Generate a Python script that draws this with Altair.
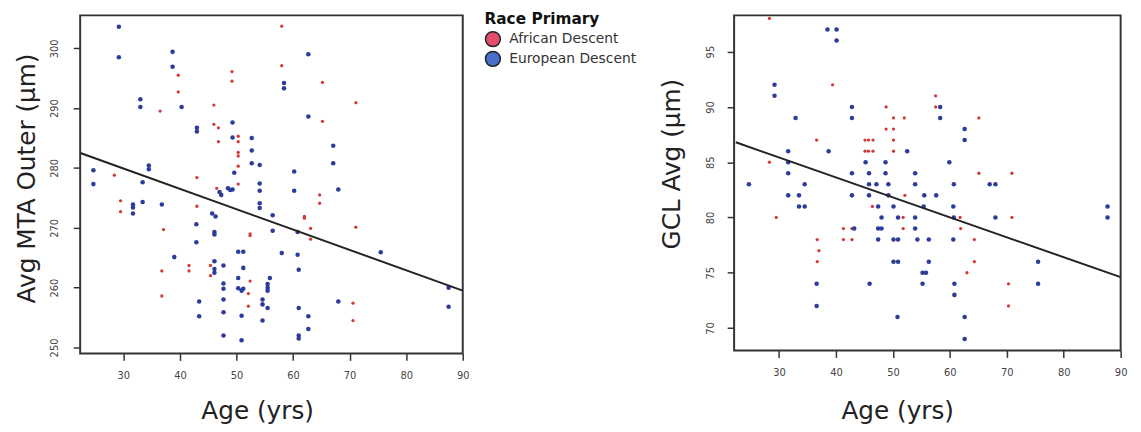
import altair as alt
import pandas as pd

# ---------------- data ----------------
races = ["African Descent", "European Descent"]

# Left panel: Avg MTA Outer (µm) vs Age
mta_af_age = [39.7, 39.7, 36.5, 46.0, 46.0, 46.8, 46.8, 49.2, 49.2, 50.3, 50.3, 50.3, 50.3, 50.3, 50.3,
              58.0, 58.0, 65.2, 71.1, 65.2, 64.7, 64.7, 62.0, 62.0, 63.1, 63.1, 71.1, 70.6, 70.6, 28.4,
              29.5, 29.5, 37.1, 36.8, 36.8, 41.6, 41.6, 43.0, 43.0, 45.4, 45.4, 46.5, 52.4, 52.4, 52.4,
              52.1, 52.1]
mta_af_val = [295.5, 292.7, 289.5, 290.5, 287.3, 286.7, 284.4, 296.1, 294.5, 285.3, 284.4, 282.6, 282.0,
              280.3, 277.3, 303.7, 297.1, 294.3, 290.9, 287.8, 275.5, 274.1, 271.9, 271.6, 269.9, 268.1,
              270.1, 257.4, 254.5, 278.8, 274.5, 272.7, 269.7, 262.8, 258.6, 263.7, 262.8, 278.4, 273.6,
              263.7, 262.0, 276.6, 269.0, 268.7, 261.1, 259.0, 256.9]
mta_eu_age = [29.2, 29.2, 38.7, 38.7, 33.0, 33.0, 40.3, 43.0, 43.0, 49.3, 49.3, 52.7, 52.7, 52.7, 54.1,
              62.7, 58.4, 58.4, 62.7, 67.1, 67.1, 68.0, 60.2, 60.2, 60.8, 60.8, 61.0, 75.5, 87.5, 87.5,
              68.0, 61.0, 62.7, 62.7, 61.0, 61.0, 24.7, 24.7, 31.7, 31.7, 31.7, 33.4, 33.4, 34.5, 34.5,
              36.8, 39.0, 42.9, 42.9, 43.4, 43.4, 46.1, 46.1, 46.1, 45.7, 46.3, 46.1, 46.1, 47.0, 47.3,
              47.7, 47.7, 47.7, 47.7, 47.7, 47.7, 48.5, 48.9, 49.3, 49.6, 50.3, 50.3, 50.9, 50.3, 51.2,
              51.2, 51.2, 50.9, 50.9, 54.1, 54.1, 54.1, 54.1, 56.4, 56.4, 58.0, 55.9, 55.5, 55.5, 55.5,
              54.6, 54.6, 55.5, 54.6]
mta_eu_val = [303.6, 298.5, 299.4, 296.9, 291.5, 290.2, 290.2, 286.7, 286.1, 287.6, 285.1, 285.0, 282.9,
              280.8, 280.5, 299.0, 294.2, 293.3, 288.6, 283.7, 280.8, 276.4, 279.4, 276.2, 269.3, 265.5,
              263.0, 265.9, 260.0, 256.8, 257.7, 256.6, 255.2, 253.1, 252.0, 251.5, 279.6, 277.3, 273.9,
              273.4, 272.4, 277.6, 274.3, 280.4, 279.8, 273.9, 265.1, 270.6, 267.6, 257.7, 255.2, 264.4,
              263.1, 262.5, 272.4, 271.9, 269.3, 268.9, 276.0, 275.5, 263.7, 260.7, 259.8, 258.0, 255.9,
              252.0, 276.6, 276.3, 276.4, 279.2, 261.6, 259.9, 259.5, 266.0, 266.0, 263.3, 259.8, 255.3,
              251.2, 277.4, 276.2, 274.1, 273.3, 272.1, 269.5, 265.8, 261.6, 260.6, 260.0, 259.5, 258.0,
              257.2, 256.6, 254.5]

# Right panel: GCL Avg (µm) vs Age
gcl_af_age = [28.3, 39.4, 48.8, 50.1, 52.0, 48.8, 50.1, 57.5, 57.5, 65.1, 36.6, 45.1, 45.7, 46.5, 45.1,
              45.7, 46.5, 50.1, 50.1, 28.3, 29.5, 46.4, 41.3, 41.3, 42.8, 42.8, 36.7, 37.0, 36.7, 51.8,
              51.8, 52.1, 61.8, 61.9, 63.0, 64.3, 64.3, 65.1, 70.9, 70.9, 70.3, 70.3]
gcl_af_val = [98, 92, 90, 89, 89, 88, 88, 91, 90, 89, 87, 87, 87, 87, 86,
              86, 86, 87, 86, 85, 80, 81, 79, 78, 79, 78, 78, 77, 76, 80,
              79, 82, 80, 79, 75, 78, 76, 84, 84, 80, 74, 72]
gcl_eu_age = [38.5, 40.1, 40.1, 29.2, 29.2, 42.8, 42.8, 32.9, 58.3, 58.3, 62.6, 62.6, 38.7, 52.5, 31.6,
              31.6, 31.6, 24.7, 34.5, 31.6, 33.5, 33.5, 34.5, 42.8, 42.8, 45.2, 45.8, 45.8, 45.8, 47.1,
              48.7, 48.7, 49.2, 49.2, 47.4, 48.0, 43.2, 47.4, 48.0, 47.4, 36.6, 36.6, 45.9, 50.1, 50.9,
              50.1, 50.9, 50.1, 50.9, 50.8, 53.9, 53.9, 53.9, 53.9, 54.3, 55.5, 55.4, 56.3, 56.3, 55.2,
              55.8, 55.2, 57.6, 59.9, 60.7, 60.6, 60.7, 60.6, 60.8, 60.8, 62.6, 62.6, 67.0, 68.0, 68.0,
              75.5, 75.5, 87.7, 87.7]
gcl_eu_val = [97, 97, 96, 92, 91, 90, 89, 89, 90, 89, 88, 87, 86, 86, 86,
              85, 84, 83, 83, 82, 82, 81, 81, 84, 82, 85, 84, 83, 82, 83,
              85, 84, 83, 82, 81, 80, 79, 79, 79, 78, 74, 72, 74, 81, 80,
              78, 78, 76, 76, 71, 84, 83, 80, 79, 78, 82, 81, 78, 76, 75,
              75, 74, 82, 85, 83, 81, 80, 78, 74, 73, 71, 69, 83, 83, 80,
              76, 74, 81, 80]

# fitted lines (end points)
fit_age = [22.4, 90.0]
mta_fit = [282.5, 259.5]
gcl_fit = [86.8, 74.6]

# ---------------- tables ----------------
mta = pd.DataFrame({
    "Age": mta_af_age + mta_eu_age,
    "MTA": mta_af_val + mta_eu_val,
    "Race": [races[0]] * len(mta_af_age) + [races[1]] * len(mta_eu_age),
})
mta["Legend"] = mta["Race"]
gcl = pd.DataFrame({
    "Age": gcl_af_age + gcl_eu_age,
    "GCL": gcl_af_val + gcl_eu_val,
    "Race": [races[0]] * len(gcl_af_age) + [races[1]] * len(gcl_eu_age),
})
mta_line = pd.DataFrame({"Age": fit_age, "MTA": mta_fit})
gcl_line = pd.DataFrame({"Age": fit_age, "GCL": gcl_fit})

FONT = "DejaVu Sans"
point_colors = alt.Scale(domain=races, range=["#d23a3a", "#2c3b9c"])
size_scale = alt.Scale(domain=races, range=[11, 21])
legend_colors = alt.Scale(domain=races, range=["#e44c6b", "#4a6fc9"])

common_axis = dict(domain=False, grid=False, tickSize=7, tickColor="#333", tickWidth=1.5,
                   labelFont=FONT, labelFontSize=10, labelColor="#444", labelFlush=False,
                   titleFont=FONT, titleFontSize=25, titleFontWeight="normal", titleColor="#222")


def x_axis(tx, ty):
    return alt.Axis(values=[30, 40, 50, 60, 70, 80, 90], title="Age (yrs)", labelPadding=10,
                    titleX=tx, titleY=ty, titleAlign="center", titleBaseline="alphabetic",
                    **common_axis)


def y_axis(vals, title, tx, ty, lp):
    return alt.Axis(values=vals, title=title, labelAngle=270, labelAlign="center",
                    labelBaseline="bottom", labelPadding=lp, titleAngle=270,
                    titleX=tx, titleY=ty, titleAlign="center", titleBaseline="alphabetic",
                    **common_axis)


# ---------------- left panel ----------------
lx = alt.X("Age:Q", scale=alt.Scale(domain=[22.36, 90], nice=False, zero=False),
           axis=x_axis(179, 66))
ly = alt.Y("MTA:Q", scale=alt.Scale(domain=[249.0, 305.5], nice=False, zero=False),
           axis=y_axis([250, 260, 270, 280, 290, 300], "Avg MTA Outer (µm)", -46, 164.5, 14))

left_pts = alt.Chart(mta).mark_circle(opacity=1).encode(
    x=lx, y=ly,
    color=alt.Color("Race:N", scale=point_colors, legend=None),
    size=alt.Size("Race:N", scale=size_scale, legend=None),
)
left_legend = alt.Chart(mta).mark_circle(opacity=0).encode(
    x=lx, y=ly,
    color=alt.Color("Legend:N", scale=legend_colors, legend=alt.Legend(
        title="Race Primary", orient="none", legendX=409, legendY=-3,
        titleFont=FONT, titleFontSize=15.5, titleFontWeight="bold", titleColor="#111",
        titlePadding=3, labelFont=FONT, labelFontSize=14, labelColor="#333",
        labelOffset=8, symbolType="circle", symbolSize=227, symbolOpacity=1,
        symbolStrokeColor="#222", symbolStrokeWidth=1.5, rowPadding=-3, padding=0)),
)
left_line = alt.Chart(mta_line).mark_line(color="#222", strokeWidth=2).encode(x=lx, y=ly)
left = alt.layer(left_pts, left_legend, left_line).resolve_scale(
    color="independent").properties(width=387, height=342)

# ---------------- right panel ----------------
rx = alt.X("Age:Q", scale=alt.Scale(domain=[22.1, 90], nice=False, zero=False),
           axis=x_axis(165, 69))
ry = alt.Y("GCL:Q", scale=alt.Scale(domain=[67.97, 98.28], nice=False, zero=False),
           axis=y_axis([70, 75, 80, 85, 90, 95], "GCL Avg (µm)", -55, 150, 12))

right_pts = alt.Chart(gcl).mark_circle(opacity=1).encode(
    x=rx, y=ry,
    color=alt.Color("Race:N", scale=point_colors, legend=None),
    size=alt.Size("Race:N", scale=size_scale, legend=None),
)
right_line = alt.Chart(gcl_line).mark_line(color="#222", strokeWidth=2).encode(x=rx, y=ry)
right = alt.layer(right_pts, right_line).properties(width=391, height=339)

chart = alt.hconcat(left, right, spacing=21.5).resolve_scale(
    x="independent", y="independent", color="independent"
).properties(
    padding={"left": 5, "top": 1, "right": 5, "bottom": 5},
    background="white",
).configure_view(stroke="#333", strokeWidth=2, fill="white")

chart.save("out.html", embed_options={"renderer": "svg", "actions": False})
